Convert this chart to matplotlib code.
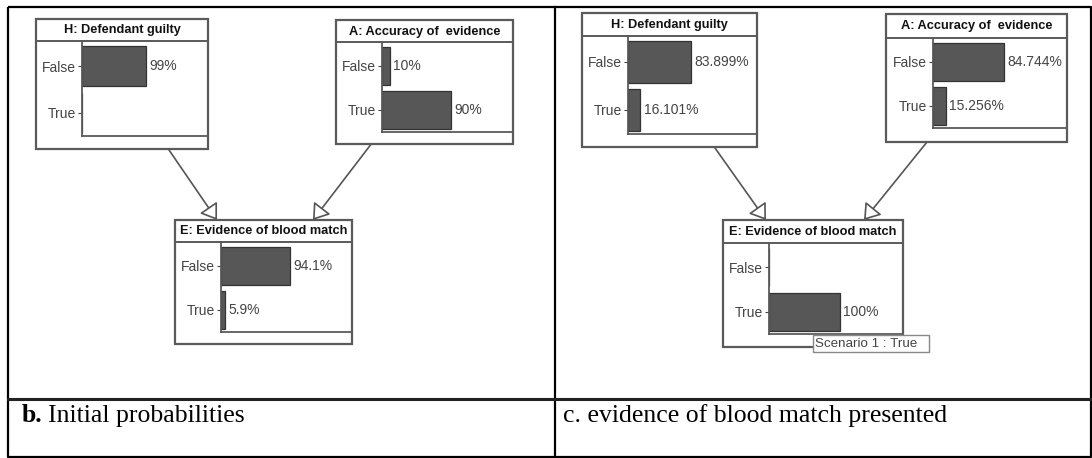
import matplotlib
matplotlib.use("Agg")
import matplotlib.pyplot as plt
from matplotlib.patches import Rectangle, FancyArrowPatch

# ---------------- data ----------------
states = ["False", "True"]
titles = ["H: Defendant guilty", "A: Accuracy of  evidence", "E: Evidence of blood match"]

initial_H = [99, None]
initial_A = [10, 90]
initial_E = [94.1, 5.9]

evidence_H = [83.899, 16.101]
evidence_A = [84.744, 15.256]
evidence_E = [None, 100]

captions_bold = ["b.", ""]
captions = ["Initial probabilities", "c. evidence of blood match presented"]
scenario_label = "Scenario 1 : True"

# ---------------- layout (pixels) ----------------
W, H = 1092, 458
# box x0, y0, x1, y1, title line y, axis x, axis bottom y, px per 100 %
layout = {
    ("b", "H"): (36, 19, 208, 149, 41, 82, 136, 65),
    ("b", "A"): (336, 20, 513, 144, 42, 382, 132, 77),
    ("b", "E"): (175, 220, 352, 344, 242, 221, 332, 73),
    ("c", "H"): (582, 13, 757, 147, 36, 628, 134, 75),
    ("c", "A"): (886, 14, 1067, 142, 38, 933, 128, 84),
    ("c", "E"): (723, 220, 903, 347, 243, 769, 334, 71),
}
arrows = {
    "b": [((169, 150), (217, 220)), ((372, 143), (313, 220))],
    "c": [((715, 148), (766, 220)), ((927, 142), (864, 220))],
}

BAR = "#575757"
EDGE = "#5a5a5a"
TXT = "#444444"

fig = plt.figure(figsize=(W / 100, H / 100), dpi=100)
ax = fig.add_axes([0, 0, 1, 1])
ax.set_xlim(0, W)
ax.set_ylim(H, 0)
ax.axis("off")

# table borders
lw_t = 1.6
ax.plot([8, 1091, 1091, 8, 8], [7, 7, 457, 457, 7], color="black", lw=lw_t, solid_capstyle="butt")
ax.plot([555, 555], [7, 457], color="black", lw=lw_t)
ax.plot([8, 1091], [399, 399], color="#222222", lw=lw_t + 0.6)

# captions
cap_fs = 18.5
ax.text(22, 416, captions_bold[0], fontfamily="Liberation Serif", fontweight="bold",
        fontsize=cap_fs, va="center", ha="left")
ax.text(48, 416, captions[0], fontfamily="Liberation Serif", fontsize=cap_fs, va="center", ha="left")
ax.text(563, 416, captions[1], fontfamily="Liberation Serif", fontsize=cap_fs, va="center", ha="left")

data = {
    ("b", "H"): initial_H, ("b", "A"): initial_A, ("b", "E"): initial_E,
    ("c", "H"): evidence_H, ("c", "A"): evidence_A, ("c", "E"): evidence_E,
}
title_of = {"H": titles[0], "A": titles[1], "E": titles[2]}

for key, vals in data.items():
    x0, y0, x1, y1, ty, axx, axb, ppc = layout[key]
    # node box
    ax.add_patch(Rectangle((x0, y0), x1 - x0, y1 - y0, fc="white", ec=EDGE, lw=1.6, zorder=2))
    ax.plot([x0, x1], [ty, ty], color=EDGE, lw=1.4, zorder=3)
    ax.text((x0 + x1) / 2, (y0 + ty) / 2 + 0.5, title_of[key[1]], fontfamily="Liberation Sans",
            fontweight="bold", fontsize=9.2, ha="center", va="center", color="#111111", zorder=4)
    # bar axes
    rect = [axx / W, 1 - axb / H, (x1 - axx) / W, (axb - ty) / H]
    bax = fig.add_axes(rect)
    bax.patch.set_alpha(0)
    ypos = list(range(len(states)))
    widths = [v if v is not None else 0 for v in vals]
    bax.barh(ypos, widths, height=0.86, color=BAR, edgecolor="#333333", lw=0.9)
    xmax = (x1 - axx) / ppc * 100
    bax.set_xlim(0, xmax)
    bax.set_ylim(1.5, -0.54)
    bax.set_yticks(ypos)
    bax.set_yticklabels(states, fontfamily="Liberation Sans", fontsize=10, color=TXT)
    bax.set_xticks([])
    bax.tick_params(axis="y", length=3, width=0.8, color=TXT, pad=1.5)
    for s in ("top", "right"):
        bax.spines[s].set_visible(False)
    for s in ("left", "bottom"):
        bax.spines[s].set_color(EDGE)
        bax.spines[s].set_linewidth(1.3)
    for yp, v in zip(ypos, vals):
        if v is None:
            continue
        bax.annotate(f"{v:g}%", (v, yp), xytext=(2.5, 0), textcoords="offset points",
                     fontfamily="Liberation Sans", fontsize=10, color=TXT, va="center", ha="left")

# arrows
for panel, lst in arrows.items():
    for (p0, p1) in lst:
        ax.add_patch(FancyArrowPatch(p0, p1, arrowstyle="-|>,head_length=5.5,head_width=3.8",
                                     mutation_scale=1.7, fc="white", ec="#555555", lw=1.2,
                                     shrinkA=0, shrinkB=0, zorder=1))

# scenario label on top
top = fig.add_axes([0, 0, 1, 1])
top.set_xlim(0, W)
top.set_ylim(H, 0)
top.axis("off")
top.add_patch(Rectangle((813, 335), 116, 17, fc="white", ec="#888888", lw=1.0))
top.text(815, 344, scenario_label, fontfamily="Liberation Sans", fontsize=9.6, color=TXT,
         va="center", ha="left")

fig.savefig("out.png", dpi=100)
